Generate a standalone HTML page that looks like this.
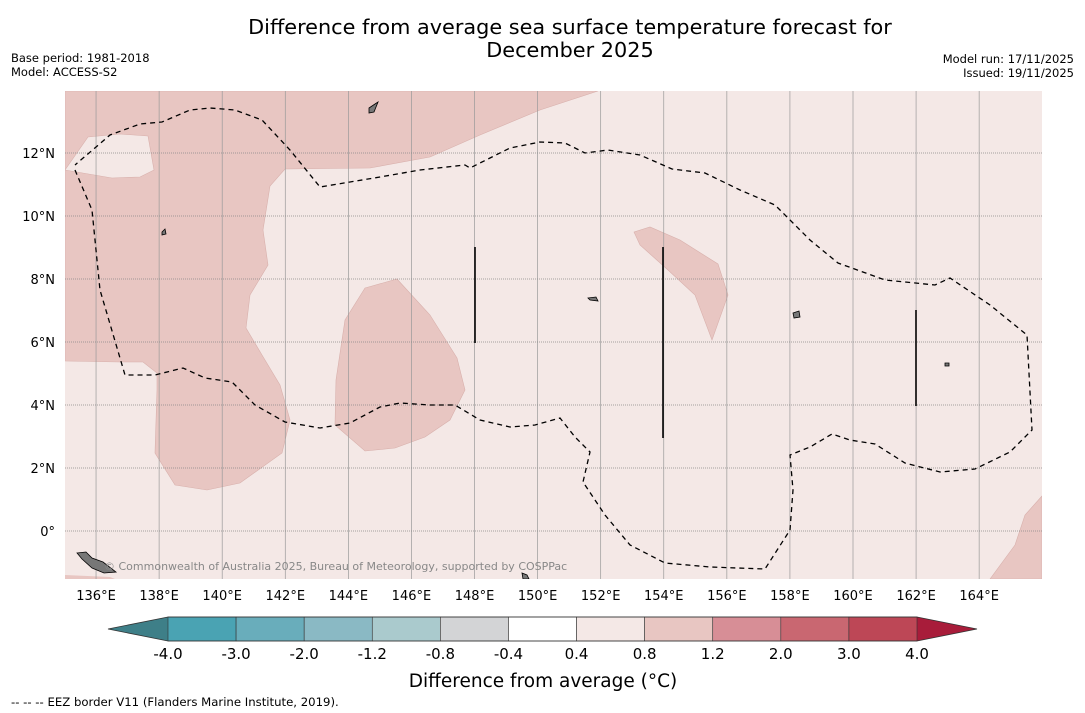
<!DOCTYPE html>
<html><head><meta charset="utf-8"><style>
body{margin:0;background:#fff;width:1085px;height:713px;overflow:hidden;font-family:"DejaVu Sans","Liberation Sans",sans-serif}
svg{position:absolute;left:0;top:0}
</style></head><body>
<svg id="s" width="1085" height="713">
<text x="570" y="34" font-size="20.8" text-anchor="middle">Difference from average sea surface temperature forecast for</text>
<text x="570" y="57" font-size="20.8" text-anchor="middle">December 2025</text>
<text x="11" y="62" font-size="11.5">Base period: 1981-2018</text>
<text x="11" y="76" font-size="11.5">Model: ACCESS-S2</text>
<text x="1074" y="63" font-size="11.5" text-anchor="end">Model run: 17/11/2025</text>
<text x="1074" y="77" font-size="11.5" text-anchor="end">Issued: 19/11/2025</text>
<defs><clipPath id="mc"><rect x="65" y="91" width="977" height="488"/></clipPath></defs>
<g clip-path="url(#mc)">
<rect x="65" y="91" width="977" height="488" fill="#f4e8e6"/>
<polygon fill="#e8c6c2" stroke="#d8b0ac" stroke-width="0.6" points="65,91 598,91 540,110 480,135 430,157 370,168 285,169 270,186 263,230 268,265 250,295 246,328 262,355 280,385 290,420 282,453 240,483 207,490 175,485 155,453 157,390 157,373 143,362 120,362 65,361"/>
<polygon fill="#f4e8e6" stroke="#d8b0ac" stroke-width="0.6" points="65,170 88,137 120,134 148,136 154,170 140,177 112,178"/>
<polygon fill="#e8c6c2" stroke="#d8b0ac" stroke-width="0.6" points="365,288 397,279 430,315 457,358 465,390 450,420 425,437 395,448 365,451 335,425 336,380 345,320"/>
<polygon fill="#e8c6c2" stroke="#d8b0ac" stroke-width="0.6" points="634,232 650,227 680,240 718,264 728,295 712,340 695,295 668,270 640,245"/>
<polygon fill="#e8c6c2" stroke="#d8b0ac" stroke-width="0.6" points="990,579 1015,545 1025,515 1042,496 1042,579"/>
<polygon fill="#e8c6c2" points="65,575 110,577 115,579 65,579"/>
<g id="grid"></g>
<polyline fill="none" stroke="#000" stroke-width="1.3" stroke-dasharray="5,4" points="75,170 92,210 100,290 125,375 155,375 183,368 205,378 232,382 255,405 285,422 320,428 350,423 380,407 400,403 430,405 455,405 480,420 510,427 535,425 560,418 575,437 590,452 583,482 605,515 630,545 665,563 710,567 765,569 790,530 793,490 790,455 810,447 832,434 850,440 875,444 905,463 940,472 975,469 1010,452 1032,430 1027,335 990,305 950,278 935,285 885,280 838,263 810,240 775,205 740,190 705,173 672,169 640,155 608,150 585,153 565,143 540,142 510,148 480,163 470,168 465,165 420,170 380,177 320,187 290,150 262,120 235,110 210,108 190,110 162,122 140,124 110,135 75,165"/>
<line x1="475" y1="247" x2="475" y2="343" stroke="#000" stroke-width="1.6"/>
<line x1="663" y1="247" x2="663" y2="438" stroke="#000" stroke-width="1.6"/>
<line x1="916" y1="310" x2="916" y2="406" stroke="#000" stroke-width="1.6"/>
<g fill="#777" stroke="#000" stroke-width="0.8">
<polygon points="369,108 375,104 378,102 374,112 369,113"/>
<polygon points="162,232 165,229 166,234 162,235"/>
<polygon points="793,313 799,311 800,317 794,318"/>
<polygon points="588,298 596,297 598,301 590,300"/>
<polygon points="945,363 949,363 949,366 945,366"/>
<polygon points="77,553 86,552 92,558 103,562 116,572 104,573 92,568 82,559"/>
<polygon points="522,573 527,575 529,579 523,579"/>
</g>
<text x="104" y="570" font-size="11" fill="#888">© Commonwealth of Australia 2025, Bureau of Meteorology, supported by COSPPac</text>
</g>
<g id="axes"></g>
<g id="cbar"></g>
<text x="543" y="687" font-size="18.5" text-anchor="middle">Difference from average (°C)</text>
<text x="11" y="706" font-size="11.7">--  --  -- EEZ border V11 (Flanders Marine Institute, 2019).</text>
</svg>
<script>
const NS='http://www.w3.org/2000/svg';
const lonTicks=[136,138,140,142,144,146,148,150,152,154,156,158,160,162,164];
const latTicks=[0,2,4,6,8,10,12];
const cbBounds=[-4.0,-3.0,-2.0,-1.2,-0.8,-0.4,0.4,0.8,1.2,2.0,3.0,4.0];
const cbColors=['#4aa3b3','#69adbb','#8ab9c4','#aacacd','#d3d4d6','#ffffff','#f4e8e6','#e8c6c2','#d78e96','#c96771','#bd4756'];
const cbLow='#3e7f88', cbHigh='#a81c3a';
const X=lon=>64.5+(lon-135)*31.54;
const Y=lat=>531-lat*31.5;
function mk(t,a,p){const e=document.createElementNS(NS,t);for(const k in a)e.setAttribute(k,a[k]);p.appendChild(e);return e;}
const g=document.getElementById('grid'),ax=document.getElementById('axes'),cb=document.getElementById('cbar');
lonTicks.forEach(l=>{
 const ln=mk('line',{x1:X(l),x2:X(l),y1:91,y2:579,stroke:'#999','stroke-width':0.7},g);
 
 
 const t=mk('text',{x:X(l),y:600,'font-size':13,'text-anchor':'middle'},ax);t.textContent=l+'°E';
 
 
});
latTicks.forEach(l=>{
 const ln=mk('line',{x1:65,x2:1042,y1:Y(l),y2:Y(l),stroke:'#888','stroke-width':0.7,'stroke-dasharray':'1,1'},g);
 
 
 const t=mk('text',{x:55,y:Y(l)+5,'font-size':13,'text-anchor':'end'},ax);t.textContent=l===0?'0°':l+'°N';
 
 
});
const cx0=168,cx1=917,cy=617,ch=24,n=cbColors.length,w=(cx1-cx0)/n;
const CX=i=>cx0+i*w;
const la=mk('polygon',{points:`${cx0},${cy} 108,${cy+ch/2} ${cx0},${cy+ch}`,fill:cbLow},cb);


const ra=mk('polygon',{points:`${cx1},${cy} 977,${cy+ch/2} ${cx1},${cy+ch}`,fill:cbHigh},cb);


cbColors.forEach((c,i)=>{
 const r=mk('rect',{x:CX(i),y:cy,width:w,height:ch,fill:c,stroke:'#333','stroke-width':0.6},cb);
 
 
});
mk('polygon',{points:`108,${cy+ch/2} ${cx0},${cy} ${cx1},${cy} 977,${cy+ch/2} ${cx1},${cy+ch} ${cx0},${cy+ch}`,fill:'none',stroke:'#333','stroke-width':0.8},cb);
cbBounds.forEach((b,i)=>{
 const t=mk('text',{x:CX(i),y:659,'font-size':15,'text-anchor':'middle'},cb);t.textContent=b.toFixed(1);
 
 
});
</script>
</body></html>
